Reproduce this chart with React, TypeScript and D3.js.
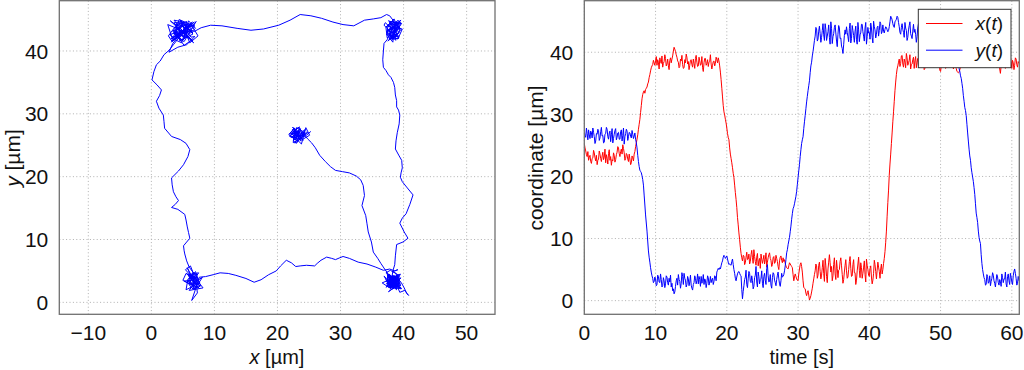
import React from "react";
import * as d3 from "d3";

// sampling interval of the recorded trajectory [s]
const dt = 0.1;

// x position [µm], one row per second (10 samples)
const xPos = [
  25.3, 24.6, 24.1, 23.5, 23.2, 24.0, 22.6, 23.1, 23.4, 22.4,
  22.1, 22.9, 23.0, 24.2, 23.8, 23.0, 22.5, 23.4, 21.9, 22.6,
  22.8, 24.1, 23.6, 22.9, 22.4, 23.3, 23.9, 22.7, 23.1, 24.4,
  22.2, 23.5, 22.9, 22.0, 23.7, 24.3, 22.6, 23.2, 21.8, 22.7,
  22.5, 23.8, 23.4, 22.3, 22.7, 23.5, 23.9, 24.8, 24.6, 23.7,
  23.2, 24.0, 24.4, 23.6, 25.1, 24.5, 23.8, 22.6, 22.9, 23.7,
  23.5, 22.8, 22.4, 23.6, 22.8, 21.9, 22.2, 23.3, 23.0, 22.5,
  23.6, 24.0, 24.8, 25.4, 26.0, 26.7, 27.6, 28.4, 29.2, 30.3,
  31.4, 32.5, 33.2, 33.6, 33.8, 33.4, 34.0, 34.2, 34.4, 34.9,
  35.2, 35.9, 36.4, 37.0, 37.5, 37.8, 38.0, 38.7, 38.3, 37.9,
  38.6, 39.3, 37.9, 38.8, 38.4, 37.3, 39.1, 38.5, 38.2, 39.4,
  37.6, 38.2, 38.5, 39.6, 39.0, 37.8, 38.1, 38.9, 37.8, 37.2,
  38.7, 39.1, 38.3, 38.9, 39.4, 40.2, 40.8, 40.5, 40.1, 39.6,
  39.2, 38.6, 38.4, 37.5, 37.7, 38.9, 38.6, 39.5, 38.0, 37.4,
  37.5, 38.8, 38.3, 39.7, 39.2, 38.1, 38.5, 37.2, 37.9, 38.7,
  38.8, 38.0, 37.6, 38.9, 38.2, 37.4, 39.0, 39.5, 38.4, 37.7,
  37.8, 39.2, 38.6, 37.9, 38.1, 39.3, 37.5, 36.9, 38.3, 39.0,
  39.0, 37.9, 38.2, 38.8, 37.7, 38.4, 38.5, 39.6, 38.1, 37.3,
  37.9, 38.5, 38.6, 37.8, 38.2, 39.2, 38.8, 38.3, 39.1, 38.6,
  37.8, 36.8, 35.6, 34.2, 32.8, 31.4, 30.4, 29.9, 29.2, 28.6,
  27.8, 26.9, 26.3, 25.9, 24.6, 23.6, 22.9, 22.2, 21.4, 20.5,
  19.8, 18.6, 17.4, 16.3, 15.0, 13.4, 12.2, 10.9, 9.8, 8.6,
  7.6, 6.9, 6.4, 7.3, 7.2, 5.8, 6.1, 7.0, 7.8, 6.6,
  6.7, 7.5, 5.9, 6.3, 7.4, 8.1, 6.9, 6.0, 8.2, 7.1,
  6.3, 5.7, 7.0, 7.6, 5.6, 6.4, 6.8, 5.2, 7.5, 6.7,
  6.0, 6.6, 7.3, 5.9, 6.6, 7.7, 5.4, 6.2, 6.9, 7.4,
  7.7, 6.8, 6.5, 5.5, 5.8, 6.9, 7.1, 6.0, 6.2, 7.3,
  6.8, 6.3, 5.5, 5.0, 6.4, 7.0, 7.2, 6.5, 6.1, 6.9,
  6.3, 6.6, 6.0, 5.6, 5.3, 5.2, 5.1, 5.6, 6.1, 5.9,
  5.7, 5.5, 5.3, 4.2, 3.2, 3.8, 4.3, 3.9, 3.5, 3.3,
  3.2, 4.3, 5.1, 5.8, 6.1, 5.5, 4.6, 3.2, 2.1, 2.0,
  1.9, 1.2, 0.8, 1.3, 1.6, 0.9, 0.1, 0.4, 0.8, 1.4,
  2.0, 2.8, 3.5, 4.2, 4.8, 5.9, 5.6, 3.6, 4.1, 5.7,
  6.2, 4.7, 3.5, 4.1, 5.3, 6.5, 4.4, 3.1, 6.8, 5.6,
  3.9, 2.9, 5.1, 6.2, 7.4, 6.1, 4.6, 5.5, 3.2, 4.0,
  5.8, 6.9, 4.3, 3.4, 6.5, 5.2, 3.7, 4.9, 5.0, 6.3,
  6.9, 5.6, 4.2, 2.8, 3.4, 4.6, 5.7, 6.6, 4.8, 3.6,
  3.8, 5.0, 6.3, 7.1, 5.2, 3.9, 4.0, 5.8, 6.6, 4.5,
  4.5, 2.6, 3.3, 4.8, 5.9, 7.0, 4.9, 3.7, 6.1, 5.3,
  3.6, 4.4, 5.4, 6.4, 4.2, 3.0, 6.7, 5.7, 5.0, 4.1,
  3.9, 5.2, 5.6, 3.8, 2.7, 3.3, 4.4, 6.5, 5.8, 4.7,
  3.5, 4.9, 6.2, 5.4, 4.7, 3.6, 5.1, 5.9, 4.3, 5.0,
  6.0, 6.8, 7.9, 9.4, 11.2, 13.6, 15.8, 17.8, 20.2, 22.0,
  23.6, 25.3, 27.0, 28.8, 30.4, 32.1, 33.8, 35.2, 36.4, 37.3,
  37.8, 38.4, 38.9, 37.7, 38.2, 39.4, 39.5, 38.1, 37.6, 38.9,
  38.4, 37.5, 39.8, 39.1, 37.9, 38.3, 38.7, 39.6, 37.3, 38.0,
  38.1, 38.8, 39.2, 37.4, 38.6, 39.3, 37.5, 38.4, 39.0, 37.8,
  38.3, 39.5, 37.7, 38.2, 39.6, 38.8, 38.5, 37.2, 37.4, 38.6,
  38.8, 37.6, 39.3, 38.5, 37.9, 39.0, 38.2, 37.8, 39.7, 38.9,
  37.6, 38.3, 38.6, 39.4, 39.1, 37.9, 37.8, 38.8, 38.4, 37.1,
  36.9, 37.8, 38.0, 39.2, 39.4, 38.6, 38.3, 37.4, 37.5, 38.9,
  38.7, 37.7, 39.2, 38.4, 37.8, 38.9, 38.5, 39.3, 37.3, 38.0,
  38.1, 37.7, 37.4, 36.9, 36.8, 36.7, 36.8, 37.2, 37.6, 38.0,
  38.4, 38.6, 38.7, 38.9, 38.9, 39.2, 39.4, 39.3, 39.0, 38.8,
  38.7, 39.3, 39.7, 39.8, 39.6, 39.5, 39.8, 40.6, 41.5, 41.0,
  40.4, 39.8, 39.4, 40.1, 40.7, 39.9, 38.9, 38.7, 38.6, 38.3,
  38.2, 38.9, 38.9, 37.6, 37.8, 39.2, 38.5, 37.9, 39.3, 38.6,
  38.0, 39.4, 38.7, 37.7, 37.6, 38.9, 39.1, 38.3, 38.4, 37.5,
  37.9, 39.2, 38.6, 37.3, 36.6, 37.8, 38.2, 39.3, 39.0, 38.1,
  38.5, 37.4, 37.7, 38.9, 38.8, 37.6, 38.1, 39.5, 39.2, 38.4,
  37.4, 38.7, 38.3, 37.2, 37.9, 39.1, 38.9, 38.0, 37.6, 38.5,
  38.2,
];

// y position [µm], same sampling
const yPos = [
  27.2, 26.6, 26.3, 27.8, 26.9, 25.9, 27.5, 26.7, 26.1, 27.3,
  27.0, 26.2, 27.8, 27.1, 26.4, 25.3, 25.7, 26.9, 26.8, 27.6,
  27.4, 25.8, 26.2, 27.2, 27.9, 26.5, 26.6, 25.4, 25.5, 26.8,
  26.9, 27.9, 27.6, 26.4, 26.0, 27.0, 27.3, 25.6, 26.7, 27.7,
  25.4, 26.1, 26.8, 27.4, 27.7, 25.9, 26.3, 27.0, 27.1, 26.0,
  26.0, 27.2, 27.5, 25.7, 26.6, 27.8, 25.2, 26.4, 26.9, 27.6,
  27.3, 25.8, 26.4, 27.1, 27.0, 26.5, 26.2, 27.4, 26.8, 26.1,
  26.5, 27.0, 26.0, 25.4, 24.6, 23.4, 22.4, 21.6, 21.0, 20.8,
  20.6, 20.1, 19.5, 18.6, 17.0, 15.4, 13.8, 12.5, 11.2, 9.6,
  8.0, 7.0, 6.2, 5.3, 4.6, 4.0, 3.6, 2.9, 3.1, 3.8,
  3.5, 2.4, 2.6, 4.1, 3.9, 3.0, 2.9, 4.3, 3.4, 2.2,
  2.4, 3.7, 3.2, 2.1, 2.7, 4.0, 3.8, 2.9, 2.5, 3.6,
  3.0, 4.1, 2.2, 2.8, 1.6, 1.9, 1.1, 1.4, 2.3, 3.2,
  3.6, 2.5, 4.2, 3.4, 3.1, 2.0, 2.8, 4.5, 3.9, 2.6,
  4.4, 3.6, 3.3, 2.2, 2.6, 3.9, 3.5, 2.4, 3.0, 4.1,
  2.5, 2.0, 1.7, 2.6, 2.9, 4.0, 3.6, 2.7, 3.2, 4.3,
  2.7, 3.9, 3.4, 2.3, 3.9, 2.8, 3.1, 4.2, 2.6, 3.5,
  3.3, 2.1, 2.8, 4.0, 3.7, 2.5, 3.0, 3.9, 2.9, 3.4,
  3.6, 2.6, 3.1, 4.0, 3.9, 3.2, 4.6, 4.9, 5.2, 5.0,
  5.3, 5.1, 5.6, 6.1, 6.4, 7.0, 7.3, 7.1, 6.8, 7.0,
  7.2, 6.7, 6.2, 5.8, 5.9, 5.8, 5.7, 6.3, 6.7, 5.8,
  5.0, 4.4, 3.6, 3.2, 3.8, 4.3, 4.6, 4.7, 4.4, 4.1,
  4.0, 1.8, 0.3, 1.5, 2.4, 3.4, 3.8, 4.9, 2.6, 2.1,
  3.5, 4.7, 4.4, 3.1, 2.9, 4.0, 3.2, 1.9, 2.3, 3.7,
  4.1, 5.5, 3.0, 2.2, 4.6, 3.9, 2.7, 3.4, 3.6, 4.8,
  2.8, 2.1, 3.9, 4.4, 3.3, 2.6, 5.2, 5.8, 4.0, 3.0,
  3.1, 4.2, 2.5, 2.0, 3.7, 4.5, 4.3, 3.3, 2.9, 2.4,
  3.4, 4.1, 4.6, 3.5, 2.7, 2.3, 3.2, 4.4, 3.8, 3.9,
  4.2, 4.8, 5.6, 6.6, 7.7, 8.2, 9.0, 9.6, 10.2, 11.1,
  12.0, 13.1, 14.0, 14.8, 15.1, 15.6, 16.2, 16.8, 17.6, 18.7,
  19.8, 20.9, 21.9, 23.2, 24.3, 25.3, 25.9, 26.4, 27.7, 28.8,
  29.8, 30.9, 32.0, 32.9, 33.8, 34.6, 35.4, 36.7, 37.8, 38.4,
  39.4, 40.1, 41.0, 41.9, 42.6, 44.0, 43.8, 41.8, 42.1, 43.4,
  44.2, 43.0, 41.6, 42.4, 43.5, 44.6, 42.8, 41.9, 44.6, 43.7,
  41.9, 42.6, 43.3, 44.4, 42.4, 41.3, 44.9, 43.8, 41.4, 42.5,
  43.0, 44.0, 44.4, 43.1, 41.8, 40.9, 42.9, 44.3, 43.9, 42.2,
  42.3, 41.0, 40.6, 39.8, 41.2, 42.7, 43.6, 42.9, 44.1, 43.2,
  42.5, 41.7, 43.8, 44.7, 41.5, 42.2, 44.3, 43.5, 42.7, 41.6,
  43.4, 44.2, 42.0, 41.3, 44.8, 43.6, 41.7, 42.8, 43.1, 44.5,
  44.5, 43.3, 42.6, 41.8, 43.9, 44.8, 41.3, 42.5, 44.0, 43.1,
  43.2, 42.1, 44.7, 43.9, 42.4, 41.5, 45.0, 44.1, 43.6, 42.3,
  42.9, 44.0, 44.2, 42.6, 43.5, 44.9, 44.6, 43.0, 43.3, 44.4,
  43.4, 43.1, 43.7, 44.1, 44.0, 43.6, 43.3, 43.5, 44.1, 44.9,
  45.8, 45.6, 45.2, 44.6, 44.2, 44.0, 44.9, 45.1, 45.3, 45.8,
  45.6, 44.8, 44.1, 43.2, 42.9, 44.0, 44.6, 43.7, 43.2, 42.4,
  44.8, 43.9, 43.5, 41.9, 42.4, 43.6, 44.3, 44.9, 43.0, 42.6,
  42.2, 43.4, 44.5, 43.2, 43.7, 42.9, 41.6, 42.5, 43.9, 44.6,
  44.7, 43.6, 42.8, 41.9, 43.4, 44.3, 45.1, 43.8, 42.1, 42.9,
  43.6, 44.8, 44.2, 42.7, 41.9, 42.4, 43.0, 44.1, 44.4, 43.2,
  42.7, 41.8, 43.8, 44.6, 44.9, 43.1, 42.5, 41.7, 43.3, 44.5,
  44.1, 43.2, 42.3, 42.8, 43.5, 44.4, 41.4, 42.6, 44.0, 44.7,
  43.1, 41.9, 42.0, 43.7, 44.6, 43.0, 43.4, 42.2, 42.6, 43.9,
  43.2, 42.5, 41.8, 41.2, 40.0, 38.6, 37.4, 36.9, 36.2, 35.8,
  35.0, 34.2, 33.0, 32.1, 31.1, 30.6, 29.8, 28.4, 27.0, 25.7,
  24.4, 23.3, 22.6, 21.4, 20.6, 19.9, 19.2, 18.2, 17.1, 15.6,
  14.1, 13.4, 12.6, 11.2, 10.2, 9.6, 9.2, 7.4, 6.0, 5.0,
  4.3, 3.7, 3.4, 2.5, 2.6, 4.2, 3.9, 2.8, 3.0, 4.0,
  2.4, 3.1, 3.6, 4.5, 4.1, 3.2, 2.8, 2.2, 3.3, 4.2,
  3.8, 2.9, 2.5, 3.4, 3.1, 2.3, 4.3, 3.7, 2.9, 3.5,
  3.5, 4.6, 2.7, 2.2, 3.9, 4.3, 3.2, 2.6, 4.4, 3.8,
  3.0, 2.6, 4.0, 4.7, 5.1, 4.4, 3.6, 2.5, 2.8, 3.9,
  3.2,
];

const trajTicksX = [-10, 0, 10, 20, 30, 40, 50];
const coordTicks = [0, 10, 20, 30, 40];
const timeTicks = [0, 10, 20, 30, 40, 50, 60];
const seriesNames = ["x", "y"];
const seriesColors = ["#ff0000", "#0000ff"];

const font = "'Liberation Sans', Arial, Helvetica, sans-serif";
const fs = 21;
const labelFs = 20;
const gridColor = "#b0b0b0";
const frameColor = "#707070";

const fmt = (v: number) => (v < 0 ? "\u2212" + Math.abs(v) : String(v));

function Frame({ x, y, ticksX, ticksY, id }: any) {
  const [x0, x1] = x.range();
  const [y0, y1] = y.range();
  return (
    <g>
      <defs>
        <clipPath id={id}>
          <rect x={x0} y={y1} width={x1 - x0} height={y0 - y1} />
        </clipPath>
      </defs>
      {ticksX.map((t: number) => (
        <line key={"gx" + t} x1={x(t)} x2={x(t)} y1={y1} y2={y0}
          stroke={gridColor} strokeWidth={1} strokeDasharray="1,2.4" />
      ))}
      {ticksY.map((t: number) => (
        <line key={"gy" + t} x1={x0} x2={x1} y1={y(t)} y2={y(t)}
          stroke={gridColor} strokeWidth={1} strokeDasharray="1,2.4" />
      ))}
      {ticksX.map((t: number) => (
        <text key={"tx" + t} x={x(t)} y={340} textAnchor="middle"
          fontSize={fs} fontFamily={font} fill="#111">{fmt(t)}</text>
      ))}
      {ticksY.map((t: number) => (
        <text key={"ty" + t} x={x0 - 11} y={y(t)} textAnchor="end" dy="0.36em"
          fontSize={fs} fontFamily={font} fill="#111">{fmt(t)}</text>
      ))}
    </g>
  );
}

function Border({ x, y }: any) {
  const [x0, x1] = x.range();
  const [y0, y1] = y.range();
  return (
    <rect x={x0} y={y1} width={x1 - x0} height={y0 - y1}
      fill="none" stroke={frameColor} strokeWidth={1.3} />
  );
}

export default function App() {
  const n = Math.min(xPos.length, yPos.length);
  const idx = d3.range(n);

  // left: trajectory in the plane
  const px = d3.scaleLinear().domain([-14.6, 54.5]).range([59.3, 495]);
  const py = d3.scaleLinear().domain([-1.9, 48.0]).range([314.3, 0.7]);
  const traj = d3.line<number>()
    .x((i) => px(xPos[i]))
    .y((i) => py(yPos[i]));

  // right: coordinates versus time
  const tx = d3.scaleLinear().domain([0, 61.05]).range([584.3, 1019.3]);
  const ty = d3.scaleLinear().domain([-2.2, 48.3]).range([314.3, 0.7]);
  const series = [xPos, yPos];
  const tline = (arr: number[]) =>
    d3.line<number>().x((i) => tx(i * dt)).y((i) => ty(arr[i]))(idx) || "";

  const lx = 918.3, ly = 9.3, lw = 92.7, lh = 58.4;

  return (
    <svg width={1024} height={370} style={{ position: "absolute", left: 0, top: 0, background: "#fff" }}>
      <Frame x={px} y={py} ticksX={trajTicksX} ticksY={coordTicks} id="clipL" />
      <path d={traj(idx) || ""} fill="none" stroke="#0000ff" strokeWidth={1}
        strokeLinejoin="round" clipPath="url(#clipL)" />
      <Border x={px} y={py} />
      <text x={277} y={363.5} textAnchor="middle" fontSize={labelFs} fontFamily={font} fill="#111">
        <tspan fontStyle="italic">x</tspan> [µm]
      </text>
      <text transform="translate(20,158) rotate(-90)" textAnchor="middle" fontSize={fs} fontFamily={font} fill="#111">
        <tspan fontStyle="italic">y</tspan> [µm]
      </text>

      <Frame x={tx} y={ty} ticksX={timeTicks} ticksY={coordTicks} id="clipR" />
      {series.map((arr, k) => (
        <path key={k} d={tline(arr)} fill="none" stroke={seriesColors[k]}
          strokeWidth={1} strokeLinejoin="round" clipPath="url(#clipR)" />
      ))}
      <Border x={tx} y={ty} />
      <text x={801.8} y={363.5} textAnchor="middle" fontSize={labelFs} fontFamily={font} fill="#111">time [s]</text>
      <text transform="translate(543,158) rotate(-90)" textAnchor="middle" fontSize={fs} fontFamily={font} fill="#111">
        coordinate [µm]
      </text>

      <rect x={lx} y={ly} width={lw} height={lh} fill="#fff" stroke="#333" strokeWidth={1} />
      {seriesNames.map((nm, k) => {
        const yy = ly + 14.2 + k * 26.7;
        return (
          <g key={nm}>
            <line x1={926} x2={962.5} y1={yy} y2={yy} stroke={seriesColors[k]} strokeWidth={1} />
            <text x={1003} y={yy} dy="0.36em" textAnchor="end" fontSize={19} fontFamily={font} fill="#111">
              <tspan fontStyle="italic">{nm}</tspan>(<tspan fontStyle="italic">t</tspan>)
            </text>
          </g>
        );
      })}
    </svg>
  );
}
